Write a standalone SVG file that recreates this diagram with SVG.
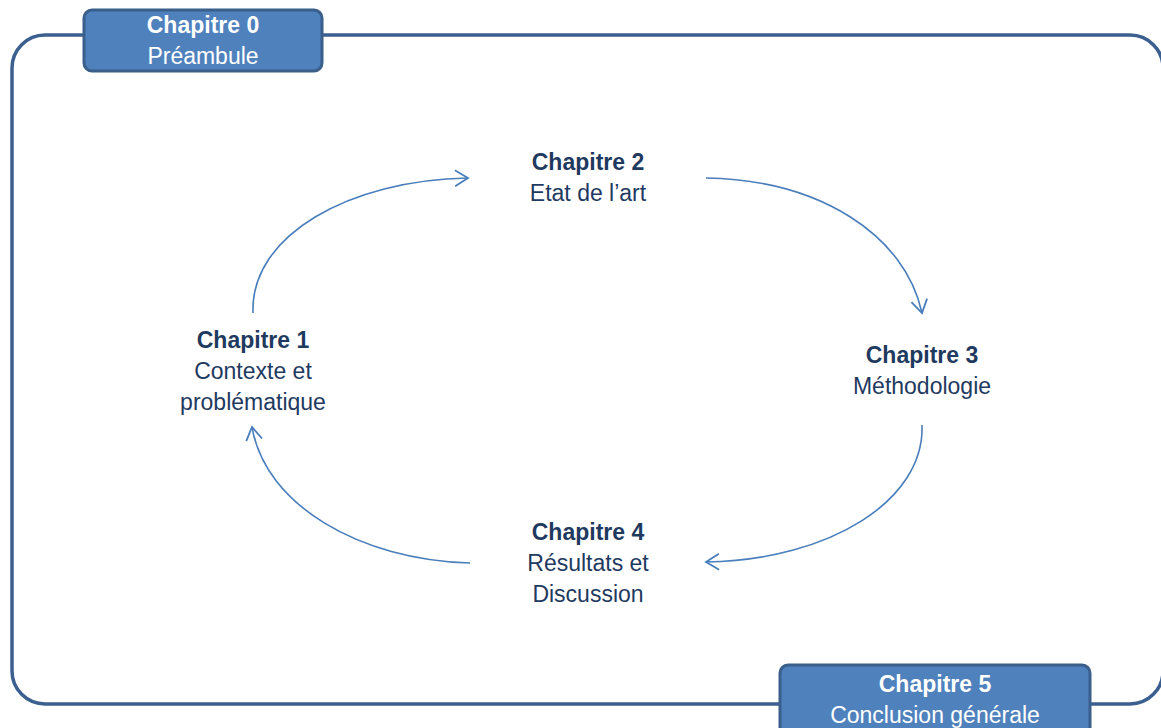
<svg xmlns="http://www.w3.org/2000/svg" width="1161" height="728" viewBox="0 0 1161 728">
<style>
.frame{fill:none;stroke:#3B5F8F;stroke-width:3.5}
.box{fill:#4F81BD;stroke:#3A5F8B;stroke-width:3}
text{font-family:"Liberation Sans",Arial,sans-serif;font-size:23px;text-anchor:middle}
.t{fill:#1F3A5F}
.w{fill:#FFFFFF}
.b{font-weight:bold}
.arc{fill:none;stroke:#4A7EBB;stroke-width:1.6}
</style>
<defs>
<marker id="ah" markerUnits="userSpaceOnUse" markerWidth="30" markerHeight="30" refX="0" refY="0" viewBox="-15 -15 30 30" orient="auto" overflow="visible">
<path d="M-13,-8 L0,0 L-13,8" fill="none" stroke="#4A7EBB" stroke-width="1.8"/>
</marker>
</defs>
<rect width="1161" height="728" fill="#FFFFFF"/>
<rect class="frame" x="12" y="35" width="1151" height="669" rx="33"/>
<g id="connectors">
<path class="arc" d="M253,313 C250,235 350,180 468,178" marker-end="url(#ah)"/>
<path class="arc" d="M706,178 C820,180 905,235 922,313" marker-end="url(#ah)"/>
<path class="arc" d="M922,425 C925,500 830,560 706,562" marker-end="url(#ah)"/>
<path class="arc" d="M470,563 C360,560 265,505 252,427" marker-end="url(#ah)"/>
</g>
<g id="ch0">
<rect class="box" x="84" y="10" width="238" height="61" rx="8"/>
<text class="w b" x="203" y="33">Chapitre 0</text>
<text class="w" x="203" y="64">Préambule</text>
</g>
<g id="ch1">
<text class="t b" x="253" y="348">Chapitre 1</text>
<text class="t" x="253" y="379">Contexte et</text>
<text class="t" x="253" y="410">problématique</text>
</g>
<g id="ch2">
<text class="t b" x="588" y="170">Chapitre 2</text>
<text class="t" x="588" y="201">Etat de l’art</text>
</g>
<g id="ch3">
<text class="t b" x="922" y="363">Chapitre 3</text>
<text class="t" x="922" y="394">Méthodologie</text>
</g>
<g id="ch4">
<text class="t b" x="588" y="540">Chapitre 4</text>
<text class="t" x="588" y="571">Résultats et</text>
<text class="t" x="588" y="602">Discussion</text>
</g>
<g id="ch5">
<rect class="box" x="780" y="665" width="310" height="80" rx="8"/>
<text class="w b" x="935" y="692">Chapitre 5</text>
<text class="w" x="935" y="723">Conclusion générale</text>
</g>
</svg>
